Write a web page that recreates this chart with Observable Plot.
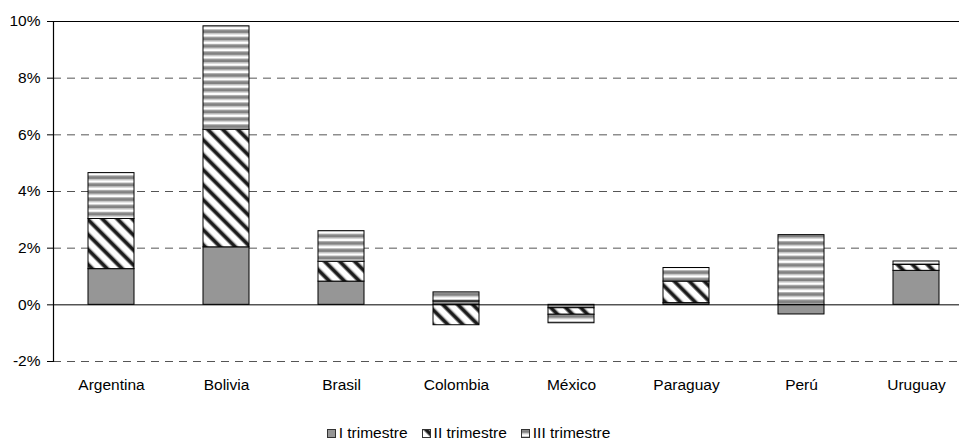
<!DOCTYPE html>
<html>
<head>
<meta charset="utf-8">
<script src="https://cdn.jsdelivr.net/npm/d3@7"></script>
<script src="https://cdn.jsdelivr.net/npm/@observablehq/plot@0.6"></script>
<style>
  html, body { margin: 0; padding: 0; background: #fff; }
  body { width: 959px; height: 441px; overflow: hidden; font-family: "Liberation Sans", Arial, sans-serif; color: #000; }
  #legend { display: flex; justify-content: center; align-items: center; height: 41px; padding-top: 25px; box-sizing: border-box; padding-right: 22px; font-size: 15.5px; }
  .item { display: flex; align-items: center; margin: 0 7px; }
  .item svg { margin-right: 3px; }
</style>
</head>
<body>
<div id="chart"></div>
<div id="legend"></div>
<script>
const countries = ["Argentina", "Bolivia", "Brasil", "Colombia", "México", "Paraguay", "Perú", "Uruguay"];
const trimestreI   = [1.26, 2.03, 0.82, 0.12, -0.12, 0.06, -0.34, 1.20];
const trimestreII  = [1.77, 4.15, 0.70, -0.72, -0.23, 0.76, 0.00, 0.21];
const trimestreIII = [1.62, 3.65, 1.08, 0.32, -0.30, 0.48, 2.46, 0.12];
const series = ["I trimestre", "II trimestre", "III trimestre"];
const yTicks = [-2, 0, 2, 4, 6, 8, 10];
const dashedLines = [-2, 2, 4, 6, 8];

const seriesValues = [trimestreI, trimestreII, trimestreIII];
const patternIds = ["pat-i", "pat-ii", "pat-iii"];

const data = [];
countries.forEach((c, i) => {
  series.forEach((s, j) => {
    const v = seriesValues[j][i];
    if (v !== 0) data.push({country: c, serie: s, value: v});
  });
});

function addDefs(svgSel, prefix) {
  const defs = svgSel.insert("defs", ":first-child");
  // I: solid gray
  const p1 = defs.append("pattern").attr("id", prefix + patternIds[0])
    .attr("patternUnits", "userSpaceOnUse").attr("width", 4).attr("height", 4);
  p1.append("rect").attr("width", 4).attr("height", 4).attr("fill", "#969696");
  // II: diagonal dark stripes "\"
  const p2 = defs.append("pattern").attr("id", prefix + patternIds[1])
    .attr("patternUnits", "userSpaceOnUse").attr("width", 10.6).attr("height", 10.6)
    .attr("patternTransform", "rotate(-45)");
  p2.append("rect").attr("width", 10.6).attr("height", 10.6).attr("fill", "#fff");
  p2.append("rect").attr("x", 0).attr("width", 1).attr("height", 10.6).attr("fill", "#888");
  p2.append("rect").attr("x", 1).attr("width", 3).attr("height", 10.6).attr("fill", "#1a1a1a");
  p2.append("rect").attr("x", 4).attr("width", 1).attr("height", 10.6).attr("fill", "#888");
  // III: horizontal gray stripes
  const p3 = defs.append("pattern").attr("id", prefix + patternIds[2])
    .attr("patternUnits", "userSpaceOnUse").attr("width", 7).attr("height", 7.3);
  p3.append("rect").attr("width", 7).attr("height", 7.3).attr("fill", "#fff");
  p3.append("rect").attr("y", 0).attr("width", 7).attr("height", 1).attr("fill", "#b4b4b4");
  p3.append("rect").attr("y", 1).attr("width", 7).attr("height", 3).attr("fill", "#828282");
  p3.append("rect").attr("y", 4).attr("width", 7).attr("height", 1).attr("fill", "#b4b4b4");
}

const chart = Plot.plot({
  width: 959,
  height: 400,
  marginTop: 21,
  marginBottom: 39,
  marginLeft: 53,
  marginRight: 0,
  style: {fontFamily: "'Liberation Sans', Arial, sans-serif", fontSize: "15.5px", color: "#000", background: "#fff", overflow: "visible"},
  x: {type: "band", domain: countries, range: [53, 973], paddingInner: 0.6, paddingOuter: 0.3, label: null},
  y: {domain: [-2, 10], label: null},
  color: {domain: series, range: patternIds.map(id => `url(#${id})`)},
  marks: [
    Plot.ruleY(dashedLines, {stroke: "#555", strokeWidth: 1, strokeDasharray: "8,6"}),
    Plot.barY(data, {x: "country", y: "value", fill: "serie", stroke: "#000", strokeWidth: 1}),
    Plot.ruleY([0], {stroke: "#000", strokeWidth: 1}),
    Plot.ruleY([10], {stroke: "#000", strokeWidth: 1.2}),
    Plot.axisY({ticks: yTicks, tickFormat: d => d + "%", tickSize: 6, tickPadding: 7, label: null, stroke: "#000", strokeOpacity: 1}),
    Plot.frame({anchor: "left", stroke: "#000", strokeWidth: 1.2}),
    Plot.axisX({tickSize: 0, tickPadding: 17, label: null})
  ]
});
addDefs(d3.select(chart), "");
document.getElementById("chart").appendChild(chart);

// legend
const legend = d3.select("#legend");
series.forEach((s, j) => {
  const item = legend.append("div").attr("class", "item");
  const sv = item.append("svg").attr("width", 9).attr("height", 9);
  addDefs(sv, "lg");
  sv.append("rect").attr("x", 0.5).attr("y", 0.5).attr("width", 8).attr("height", 8)
    .attr("fill", `url(#lg${patternIds[j]})`).attr("stroke", "#333").attr("stroke-width", 1);
  item.append("span").text(s);
});
</script>
</body>
</html>
